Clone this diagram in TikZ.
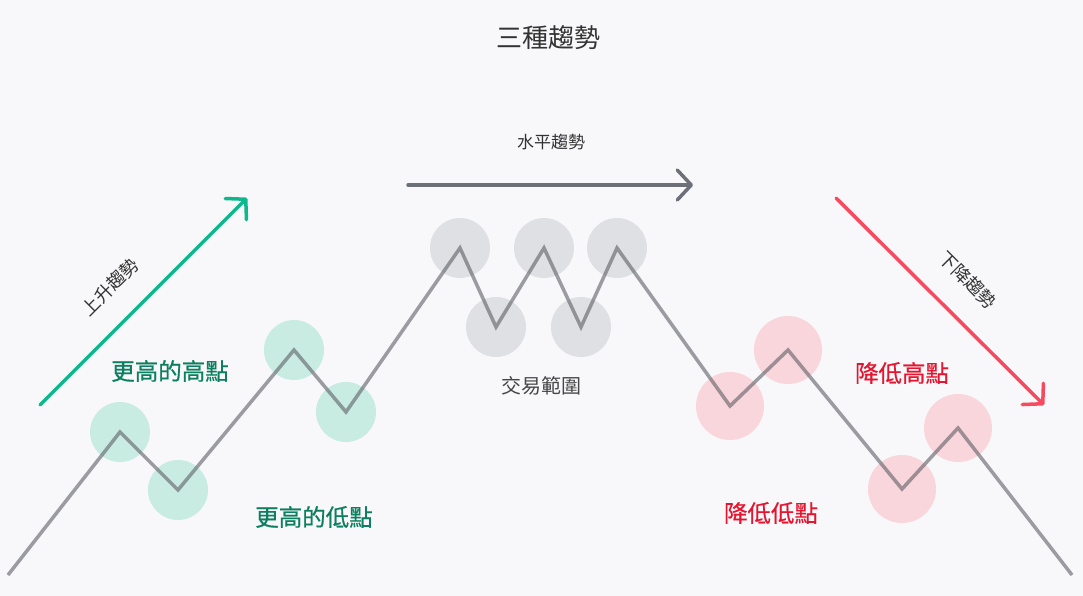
\documentclass[tikz,border=0pt]{standalone}
\usepackage{fontspec}
\setmainfont{Noto Sans CJK TC}
\newfontfamily\heavycjk[FakeBold=0.6]{Noto Sans CJK TC}
\usetikzlibrary{arrows.meta}
\definecolor{bgcol}{HTML}{F8F8FA}
\definecolor{upcol}{HTML}{0DB88C}
\definecolor{uptext}{HTML}{0B7F5F}
\definecolor{upfill}{HTML}{C9ECE2}
\definecolor{flatcol}{HTML}{6E7079}
\definecolor{flatfill}{HTML}{DFE0E3}
\definecolor{downcol}{HTML}{F54A5F}
\definecolor{downtext}{HTML}{E5142F}
\definecolor{downfill}{HTML}{F9D6DB}
\definecolor{linecol}{HTML}{5E5F66}
\definecolor{textcol}{HTML}{333333}

\begin{document}
\begin{tikzpicture}
  [x=1pt,y=-1pt,
   upball/.style={circle,fill=upfill,minimum size=60pt,inner sep=0pt},
   flatball/.style={circle,fill=flatfill,minimum size=60pt,inner sep=0pt},
   downball/.style={circle,fill=downfill,minimum size=68pt,inner sep=0pt},
   tag/.style={inner sep=0pt,text=textcol},
   pointtag/.style={inner sep=0pt,font=\heavycjk\fontsize{23.5}{23.5}\selectfont},
   trend/.style={line width=3.5pt,line cap=round,
     -{Straight Barb[length=14pt,width=30pt,round]}},
   zigzag/.style={draw=linecol,draw opacity=.6,line width=3.5pt,line join=miter}]

  \fill[bgcol] (0,0) rectangle (1083,596);

  % circles on the turning points
  \node[upball] (g1) at (120,432) {};
  \node[upball] (g2) at (178,490) {};
  \node[upball] (g3) at (294,350) {};
  \node[upball] (g4) at (346,412) {};
  \node[flatball] (m1) at (460,248) {};
  \node[flatball] (m2) at (496,327) {};
  \node[flatball] (m3) at (544,248) {};
  \node[flatball] (m4) at (581,327) {};
  \node[flatball] (m5) at (617,248) {};
  \node[downball] (r1) at (730,406) {};
  \node[downball] (r2) at (788,350) {};
  \node[downball] (r3) at (902,489) {};
  \node[downball] (r4) at (958,428) {};
  \coordinate (start) at (8,575);
  \coordinate (stop) at (1072,575);

  \draw[zigzag] (start) -- (g1.center) -- (g2.center) -- (g3.center) -- (g4.center)
    -- (m1.center) -- (m2.center) -- (m3.center) -- (m4.center) -- (m5.center)
    -- (r1.center) -- (r2.center) -- (r3.center) -- (r4.center) -- (stop);

  % trend arrows
  \coordinate (u0) at (40,405);
  \coordinate (u1) at (247,198);
  \coordinate (f0) at (408,185);
  \coordinate (f1) at (693,185);
  \coordinate (d0) at (836,198);
  \coordinate (d1) at (1044,405);
  \draw[trend,upcol] (u0) -- (u1);
  \draw[trend,flatcol] (f0) -- (f1);
  \draw[trend,downcol] (d0) -- (d1);

  % texts
  \node[tag,font=\fontsize{26}{26}\selectfont] (title) at (548,38) {三種趨勢};
  \node[tag,font=\fontsize{17}{17}\selectfont] (flat) at (551,142) {水平趨勢};
  \node[tag,font=\fontsize{18}{18}\selectfont,rotate=45] (up) at (110,287) {上升趨勢};
  \node[tag,font=\fontsize{18}{18}\selectfont,rotate=-45] (down) at (968,280) {下降趨勢};
  \node[tag,font=\fontsize{20}{20}\selectfont,text=textcol!90] (range) at (541,386) {交易範圍};
  \node[pointtag,text=uptext] (hh) at (170,371) {更高的高點};
  \node[pointtag,text=uptext] (hl) at (314,517) {更高的低點};
  \node[pointtag,text=downtext] (lh) at (902,373) {降低高點};
  \node[pointtag,text=downtext] (ll) at (771,513) {降低低點};
\end{tikzpicture}
\end{document}
